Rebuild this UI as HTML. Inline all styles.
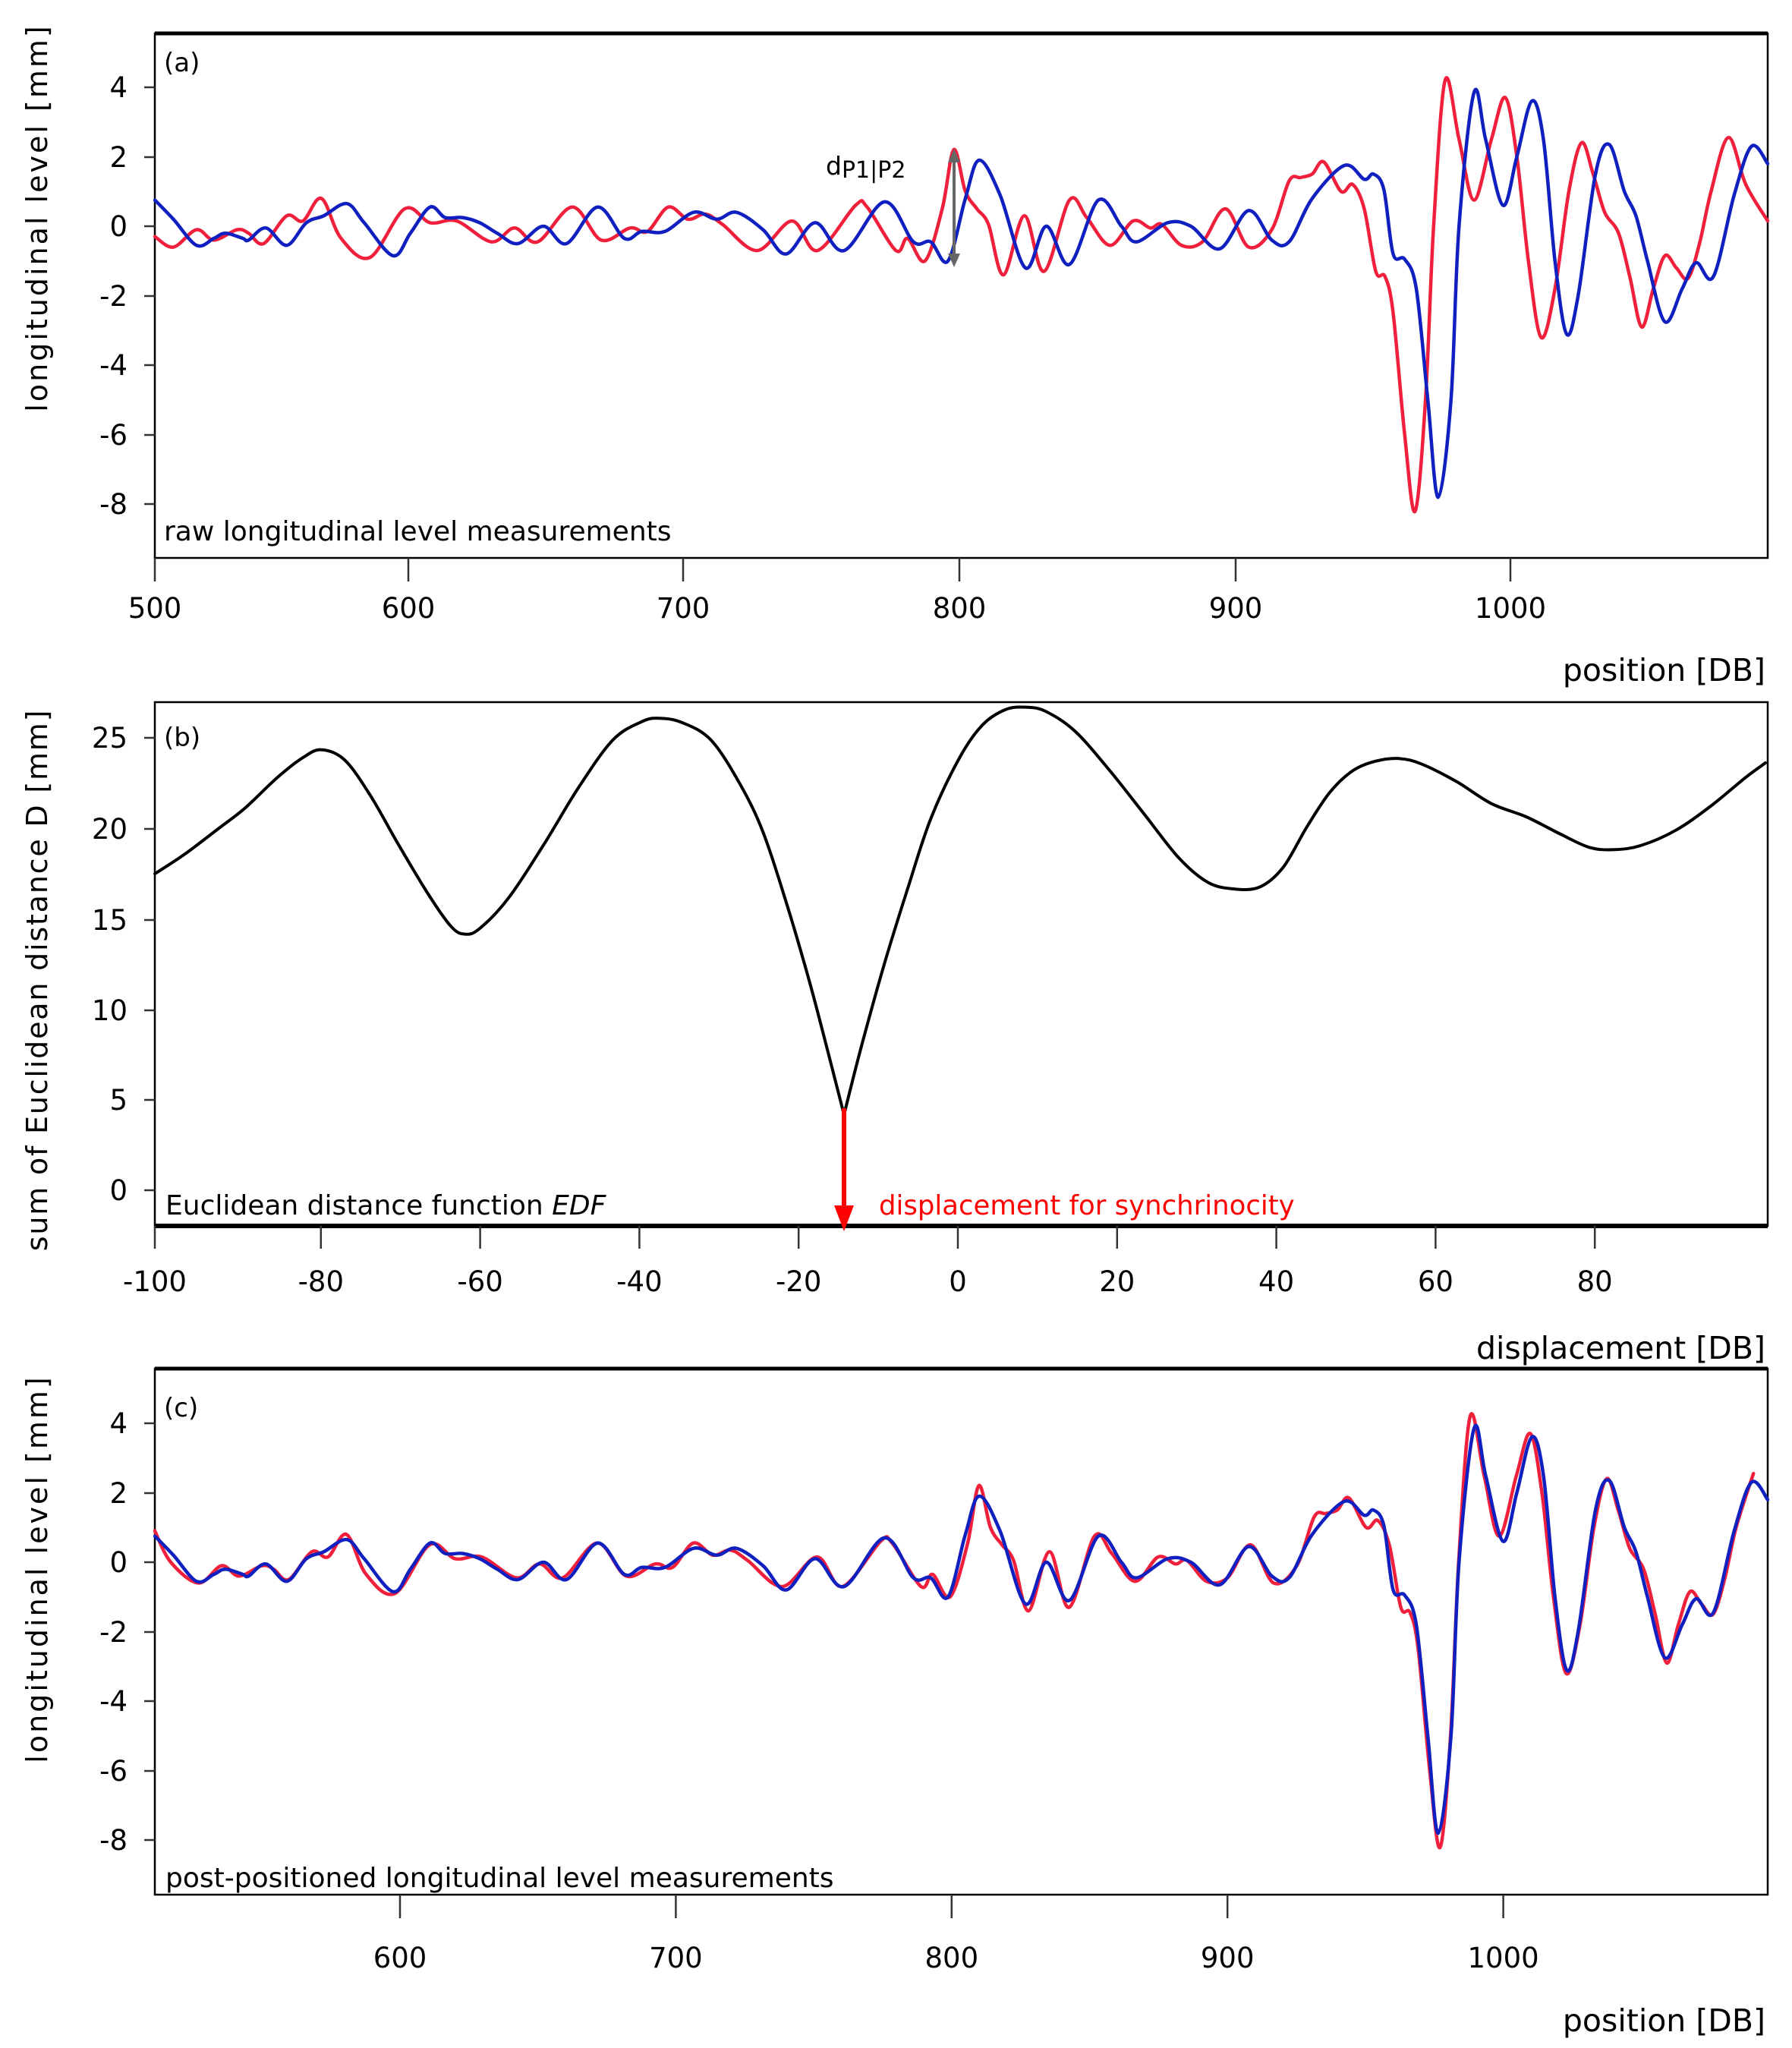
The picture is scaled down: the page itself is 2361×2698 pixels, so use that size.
<!DOCTYPE html>
<html><head><meta charset="utf-8">
<style>
html,body{margin:0;padding:0;background:#fff;}
svg{display:block;}
text{font-family:"DejaVu Sans","Liberation Sans",sans-serif;}
</style></head>
<body>
<svg id="s" width="2361" height="2698" viewBox="0 0 2361 2698" xmlns="http://www.w3.org/2000/svg">
<rect width="2361" height="2698" fill="#fff"/>
<rect x="204" y="44" width="2125" height="691" fill="none" stroke="#000" stroke-width="2.5"/>
<line x1="204" y1="44" x2="2329" y2="44" stroke="#000" stroke-width="5"/>
<rect x="204" y="925" width="2125" height="690" fill="none" stroke="#000" stroke-width="2.5"/>
<line x1="204" y1="1615" x2="2329" y2="1615" stroke="#000" stroke-width="6"/>
<rect x="204" y="1803" width="2125" height="693" fill="none" stroke="#000" stroke-width="2.5"/>
<line x1="204" y1="1803" x2="2329" y2="1803" stroke="#000" stroke-width="5"/>
<g id="ticks" stroke="#333" stroke-width="2.5"></g>
<g id="curves" fill="none" stroke-linejoin="round" stroke-linecap="round"></g>
<g font-size="37" fill="#000" id="labels"></g>

<text transform="translate(62,287) rotate(-90)" font-size="38" text-anchor="middle" letter-spacing="3">longitudinal level [mm]</text>
<text transform="translate(62,1291) rotate(-90)" font-size="38" text-anchor="middle" letter-spacing="1.8">sum of Euclidean distance D [mm]</text>
<text transform="translate(62,2067) rotate(-90)" font-size="38" text-anchor="middle" letter-spacing="3">longitudinal level [mm]</text>
<text x="2326" y="897" font-size="41" text-anchor="end">position [DB]</text>
<text x="2326" y="1790" font-size="41" text-anchor="end">displacement [DB]</text>
<text x="2326" y="2676" font-size="41" text-anchor="end">position [DB]</text>
<text x="216" y="94" font-size="34">(a)</text>
<text x="216" y="983" font-size="34">(b)</text>
<text x="216" y="1866" font-size="34">(c)</text>
<text x="216" y="712" font-size="36">raw longitudinal level measurements</text>
<text x="218" y="1600" font-size="36">Euclidean distance function <tspan font-style="italic">EDF</tspan></text>
<text x="1158" y="1600" font-size="35.5" fill="#f00">displacement for synchrinocity</text>
<text x="218" y="2486" font-size="36">post-positioned longitudinal level measurements</text>
<text x="1088" y="230" font-size="33">d<tspan font-size="30" dy="4">P1|P2</tspan></text>
<line x1="1257" y1="212" x2="1257" y2="336" stroke="#666" stroke-width="4"/>
<polygon points="1249,214 1265,214 1257,196" fill="#666"/>
<polygon points="1249,334 1265,334 1257,352" fill="#666"/>
<line x1="1112" y1="1460" x2="1112" y2="1592" stroke="#f00" stroke-width="6"/>
<polygon points="1099,1588 1125,1588 1112,1622" fill="#f00"/>
</svg>
<script>
var NS="http://www.w3.org/2000/svg";
function el(p,t,a,txt){var e=document.createElementNS(NS,t);for(var k in a)e.setAttribute(k,a[k]);if(txt!==undefined)e.textContent=txt;document.getElementById(p).appendChild(e);return e;}
[[4,115],[2,207],[0,298],[-2,390],[-4,481],[-6,573],[-8,664]].forEach(function(t){
 el('ticks','line',{x1:190,y1:t[1],x2:204,y2:t[1]});
 el('labels','text',{x:168,y:t[1]+13,'text-anchor':'end'},String(t[0]));
 var y2=t[1]+1760; el('ticks','line',{x1:190,y1:y2,x2:204,y2:y2});
 el('labels','text',{x:168,y:y2+13,'text-anchor':'end'},String(t[0]));
});
[[25,972],[20,1092],[15,1212],[10,1331],[5,1449],[0,1568]].forEach(function(t){
 el('ticks','line',{x1:190,y1:t[1],x2:204,y2:t[1]});
 el('labels','text',{x:168,y:t[1]+13,'text-anchor':'end'},String(t[0]));
});
[[500,204],[600,538],[700,900],[800,1264],[900,1628],[1000,1990]].forEach(function(t){var x=t[1];el('ticks','line',{x1:x,y1:735,x2:x,y2:766});el('labels','text',{x:x,y:814,'text-anchor':'middle'},String(t[0]));});
for(var d=-100;d<=80;d+=20){var x=(d==-100)?204:1262+10.49*d;el('ticks','line',{x1:x,y1:1615,x2:x,y2:1645});el('labels','text',{x:x,y:1701,'text-anchor':'middle'},String(d));}
for(var p=600;p<=1000;p+=100){var x=527+3.634*(p-600);el('ticks','line',{x1:x,y1:2496,x2:x,y2:2527});el('labels','text',{x:x,y:2592,'text-anchor':'middle'},String(p));}
function path(pts){var d="M"+pts[0][0].toFixed(1)+","+pts[0][1].toFixed(1);
 for(var i=0;i<pts.length-1;i++){var p0=pts[Math.max(0,i-1)],p1=pts[i],p2=pts[i+1],p3=pts[Math.min(pts.length-1,i+2)];
 var c1=[p1[0]+(p2[0]-p0[0])/6,p1[1]+(p2[1]-p0[1])/6],c2=[p2[0]-(p3[0]-p1[0])/6,p2[1]-(p3[1]-p1[1])/6];
 d+=" C"+c1[0].toFixed(1)+","+c1[1].toFixed(1)+" "+c2[0].toFixed(1)+","+c2[1].toFixed(1)+" "+p2[0].toFixed(1)+","+p2[1].toFixed(1);}
 return d;}
var blue=[[134,0.75],[150,0.2],[170,-0.55],[185,-0.35],[195,-0.2],[210,-0.35],[215,-0.4],[230,-0.05],[248,-0.55],[265,0.1],[280,0.3],[300,0.65],[315,0.1],[340,-0.85],[355,-0.2],[372,0.55],[385,0.25],[400,0.25],[415,0.1],[430,-0.2],[448,-0.5],[470,0],[490,-0.5],[517,0.55],[540,-0.35],[555,-0.15],[575,-0.15],[600,0.4],[620,0.2],[637,0.4],[660,-0.1],[680,-0.8],[705,0.1],[730,-0.7],[765,0.7],[790,-0.45],[805,-0.45],[820,-1.0],[835,0.8],[847,1.9],[865,0.9],[887,-1.2],[905,0],[925,-1.1],[950,0.75],[970,0.0],[983,-0.45],[1010,0.1],[1030,0],[1055,-0.65],[1080,0.45],[1100,-0.4],[1115,-0.45],[1135,0.8],[1163,1.75],[1180,1.35],[1188,1.5],[1197,1.05],[1205,-0.8],[1215,-0.95],[1225,-1.8],[1235,-5.0],[1244,-7.8],[1255,-5.0],[1262,0],[1275,3.85],[1285,2.5],[1300,0.6],[1312,2.0],[1325,3.6],[1335,2.5],[1345,-1],[1355,-3.1],[1365,-2],[1380,1.5],[1392,2.35],[1405,1.0],[1415,0.3],[1425,-1],[1440,-2.75],[1455,-1.8],[1467,-1.05],[1482,-1.45],[1500,0.9],[1515,2.3],[1529,1.8]];
var red=[[134,-0.3],[150,-0.6],[170,-0.1],[185,-0.4],[205,-0.1],[215,-0.2],[228,-0.5],[248,0.3],[262,0.15],[278,0.8],[295,-0.35],[320,-0.9],[350,0.5],[372,0.1],[395,0.15],[425,-0.45],[445,-0.05],[465,-0.45],[495,0.55],[520,-0.4],[545,-0.05],[560,-0.15],[578,0.55],[595,0.2],[610,0.35],[625,0.05],[655,-0.7],[685,0.15],[707,-0.7],[740,0.6],[750,0.55],[775,-0.7],[785,-0.35],[800,-1.0],[815,0.5],[825,2.2],[835,1.0],[845,0.5],[855,0.05],[868,-1.4],[886,0.3],[903,-1.3],[925,0.75],[940,0.25],[960,-0.55],[980,0.15],[995,-0.05],[1005,0.05],[1022,-0.55],[1040,-0.45],[1060,0.5],[1080,-0.6],[1100,-0.1],[1115,1.3],[1125,1.4],[1135,1.5],[1145,1.85],[1160,1.0],[1170,1.2],[1180,0.5],[1190,-1.3],[1198,-1.45],[1205,-2.5],[1215,-6],[1224,-8.2],[1233,-5],[1240,0],[1250,4.2],[1262,2.5],[1275,0.75],[1290,2.5],[1302,3.7],[1312,2.0],[1322,-1],[1333,-3.2],[1345,-1.8],[1357,1],[1368,2.4],[1378,1.5],[1388,0.4],[1400,-0.2],[1410,-1.5],[1420,-2.9],[1430,-1.8],[1440,-0.85],[1450,-1.2],[1460,-1.5],[1470,-0.5],[1480,1.0],[1495,2.55],[1510,1.2],[1529,0.15]];
function conv(a,y0,shift){return a.map(function(p){return [p[0]/0.6565+shift,y0-45.8*p[1]];});}
el('curves','path',{d:path(conv(red,298,0)),stroke:'#f0203c','stroke-width':4.5});
el('curves','path',{d:path(conv(blue,298,0)),stroke:'#1020c0','stroke-width':4.5});
var rc=conv(red,2058,33).filter(function(p){return p[0]<=2329;});
rc=[[204,2058-45.8*0.9],[225,2058-45.8*0.0]].concat(rc.filter(function(p){return p[0]>245;}));
el('curves','path',{d:path(rc),stroke:'#f0203c','stroke-width':4.5});
el('curves','path',{d:path(conv(blue,2058,0)),stroke:'#1020c0','stroke-width':4.5});
var edfL=[[134,435],[160,390],[190,330],[212,285],[240,215],[262,170],[278,152],[298,175],[320,255],[345,370],[370,480],[390,555],[402,573],[415,560],[440,490],[470,370],[500,240],[530,130],[555,88],[570,80],[590,90],[615,130],[640,230],[660,340],[680,500],[700,680],[715,830],[730,985]];
var edfR=[[730,985],[745,830],[765,640],[785,470],[805,310],[830,170],[850,95],[870,60],[888,55],[905,65],[930,110],[960,200],[990,300],[1020,400],[1045,455],[1068,470],[1090,465],[1110,420],[1130,330],[1150,250],[1170,200],[1190,178],[1210,172],[1230,185],[1260,225],[1290,275],[1320,305],[1350,345],[1375,375],[1397,380],[1420,370],[1450,335],[1480,280],[1510,215],[1527,182]];
function ce(a){return a.map(function(p){return [p[0]/0.6565,900+p[1]/1.733];});}
el('curves','path',{d:path(ce(edfL)),stroke:'#000','stroke-width':4});
el('curves','path',{d:path(ce(edfR)),stroke:'#000','stroke-width':4});
</script>
</body></html>
